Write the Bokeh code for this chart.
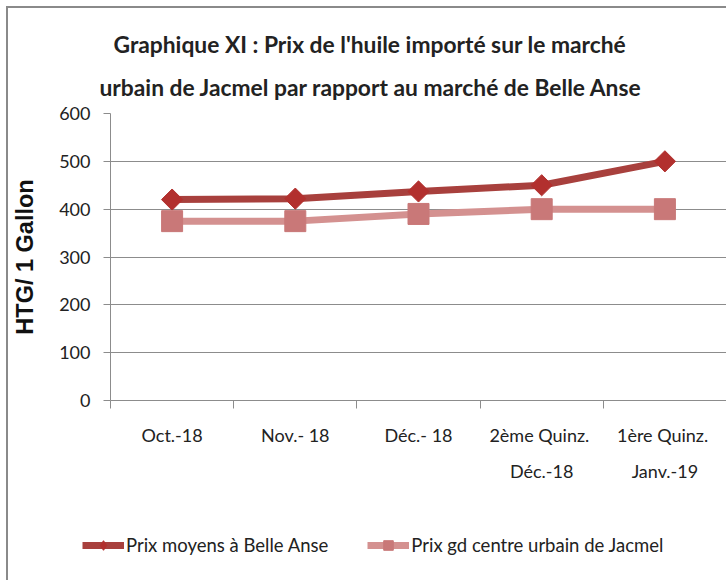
import math
from bokeh.plotting import figure
from bokeh.layouts import column
from bokeh.models import FixedTicker, Legend, LegendItem, Title, Range1d
from bokeh.embed import file_html
from bokeh.resources import INLINE

# ---- data ----
categories = ["Oct.-18", "Nov.- 18", "Déc.- 18", "2ème  Quinz.\nDéc.-18", "1ère  Quinz.\nJanv.-19"]
belle_anse = [420, 422, 437, 450, 500]
jacmel = [375, 375, 390, 400, 400]
y_ticks = [0, 100, 200, 300, 400, 500, 600]
series_names = ["Prix moyens à Belle Anse", "Prix gd centre urbain de Jacmel"]
title_lines = ["Graphique XI : Prix de l'huile importé sur le marché",
               "urbain de Jacmel par rapport au marché de Belle Anse"]
y_label = "HTG/ 1 Gallon"

FONT = "Lato"
GRAY = "#8c8c8c"
DARK = "#A8403D"
DARK_M = "#B2302E"
PINK = "#D49190"
PINK_M = "#C97878"
TXT = "#222222"

n = len(categories)
xs = [i + 0.5 for i in range(n)]

p = figure(width=718, height=510, output_backend="svg", toolbar_location=None,
           x_range=Range1d(0, n), y_range=Range1d(y_ticks[0], y_ticks[-1]),
           min_border_left=102, min_border_right=0, min_border_top=105, min_border_bottom=118,
           title=title_lines[0])
p.frame_align = False
p.outline_line_color = None
p.background_fill_color = "white"
p.border_fill_color = "white"

# titles
p.title.text_font = FONT
p.title.text_font_size = "22.8px"
p.title.text_font_style = "bold"
p.title.text_color = TXT
p.title.align = "left"
p.title.offset = 3
p.title.standoff = 0
t2 = Title(text=title_lines[1], text_font=FONT, text_font_size="22.8px", text_color=TXT,
           text_font_style="bold", align="left", offset=-11, standoff=26)
p.add_layout(t2, "above")

# lines and markers
def draw(fig, diamond_marker, diamond_size, diamond_angle):
    a = fig.line(xs, belle_anse, line_color=DARK, line_width=7)
    b = fig.scatter(xs, belle_anse, marker=diamond_marker, size=diamond_size, angle=diamond_angle,
                    fill_color=DARK_M, line_color=DARK_M)
    c = fig.line(xs, jacmel, line_color=PINK, line_width=7)
    d = fig.scatter(xs, jacmel, marker="square", size=21, fill_color=PINK_M, line_color=PINK_M)
    return a, b, c, d

draw(p, "square", 15, math.pi / 4)

# x axis
p.xaxis.ticker = FixedTicker(ticks=xs, minor_ticks=list(range(n + 1)))
p.xaxis.major_label_overrides = {x: c for x, c in zip(xs, categories)}
p.xaxis.major_tick_line_color = None
p.xaxis.major_tick_out = 0
p.xaxis.major_tick_in = 0
p.xaxis.minor_tick_line_color = GRAY
p.xaxis.minor_tick_out = 8
p.xaxis.minor_tick_in = 0
p.xaxis.axis_line_color = GRAY
p.xaxis.major_label_standoff = 15
p.xaxis.major_label_text_font = FONT
p.xaxis.major_label_text_font_size = "18px"
p.xaxis.major_label_text_color = TXT
p.xaxis.major_label_text_line_height = 1.65

# y axis
p.yaxis.ticker = FixedTicker(ticks=y_ticks)
p.yaxis.axis_line_color = GRAY
p.yaxis.major_tick_line_color = GRAY
p.yaxis.major_tick_out = 7
p.yaxis.major_tick_in = 0
p.yaxis.minor_tick_line_color = None
p.yaxis.major_label_standoff = 13
p.yaxis.major_label_text_font = FONT
p.yaxis.major_label_text_font_size = "18px"
p.yaxis.major_label_text_color = TXT
p.yaxis.axis_label = y_label
p.yaxis.axis_label_text_font = "Liberation Sans"
p.yaxis.axis_label_text_font_style = "bold"
p.yaxis.axis_label_text_font_size = "23.5px"
p.yaxis.axis_label_text_color = "#111111"
p.yaxis.axis_label_standoff = 18

p.xgrid.visible = False
p.ygrid.grid_line_color = GRAY
p.ygrid.grid_line_width = 1

# legend strip (separate figure below, same series styles; data lies outside its view)
q = figure(width=718, height=62, output_backend="svg", toolbar_location=None,
           x_range=Range1d(0, n), y_range=Range1d(-2, -1), min_border=0,
           x_axis_location=None, y_axis_location=None)
q.frame_align = False
q.outline_line_color = None
q.grid.visible = False
q.background_fill_color = "white"
q.border_fill_color = "white"
a, b, c, d = draw(q, "diamond", 24, 0)
legend = Legend(items=[LegendItem(label=series_names[0], renderers=[a, b]),
                       LegendItem(label=series_names[1], renderers=[c, d])],
                orientation="horizontal", location=(74, 23),
                border_line_color=None, background_fill_alpha=0,
                glyph_width=42, glyph_height=24, label_standoff=2, spacing=39,
                padding=0, margin=0,
                label_text_font=FONT, label_text_font_size="18.5px",
                label_text_color=TXT)
q.add_layout(legend, "center")

layout = column(p, q, spacing=0)
layout.styles = {"border-left": "2px solid #8a8a8a", "border-top": "2px solid #8a8a8a",
                 "margin-left": "6px", "margin-top": "6px"}

open("out.html", "w").write(file_html(layout, INLINE))
